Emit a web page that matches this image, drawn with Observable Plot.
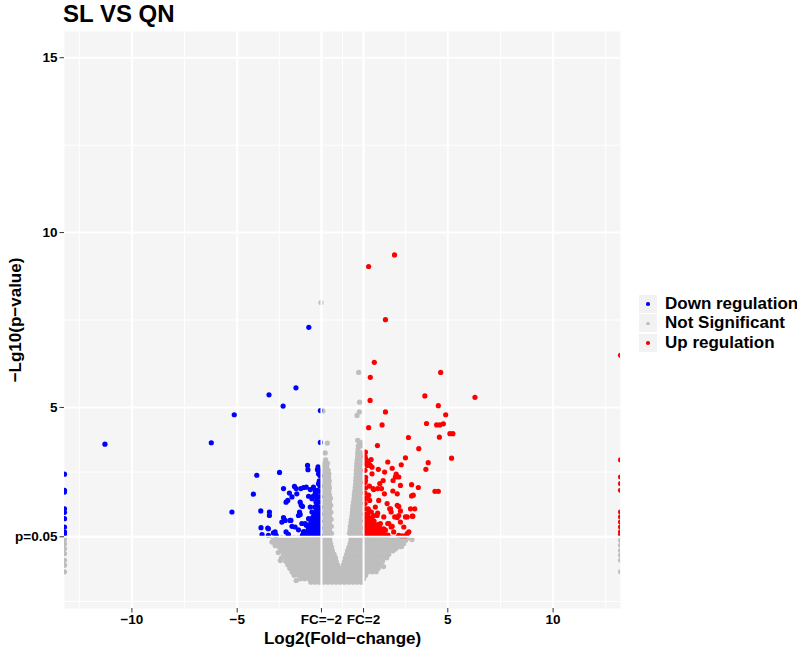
<!DOCTYPE html>
<html><head><meta charset="utf-8">
<script src="https://cdn.jsdelivr.net/npm/d3@7"></script>
<script src="https://cdn.jsdelivr.net/npm/@observablehq/plot@0.6"></script>
<style>
body{margin:0;background:#fff;font-family:"Liberation Sans",Arial,Helvetica,sans-serif;}
#wrap{position:relative;width:797px;height:652px;overflow:hidden;background:#fff}
#title{position:absolute;left:63px;top:1px;font-size:24px;line-height:25px;font-weight:bold;color:#000;white-space:nowrap}
#legend{position:absolute;left:639px;top:294px}
.row{display:flex;align-items:center;height:19.6px}
.key{width:18px;height:18px;background:#f2f2f2;position:relative;margin-right:8px;flex:none}
.key span{position:absolute;left:7.2px;top:7.2px;width:3.6px;height:3.6px;border-radius:50%}
.lab{font-size:17px;font-weight:bold;color:#000;white-space:nowrap;line-height:18px}
#chart{position:absolute;left:0;top:0}
g[aria-label="x-axis label"], g[aria-label="y-axis label"]{font-size:17px}
</style>
</head><body>
<div id="wrap">
  <div id="chart"></div>
  <div id="title"></div>
  <div id="legend"></div>
</div>
<script>
// ---------------- data ----------------
const chartTitle = "SL VS QN";
const xLabel = "Log2(Fold\u2212change)";
const yLabel = "\u2212Lg10(p\u2212value)";
const groupNames = ["Down regulation", "Not Significant", "Up regulation"];
const groupColors = ["#0000ff", "#bebebe", "#ff0000"];

const xTickValues = [-10, -5, -1, 1, 5, 10];
const xTickLabels = ["\u221210", "\u22125", "FC=\u22122", "FC=2", "5", "10"];
const yTickValues = [1.30103, 5, 10, 15];
const yTickLabels = ["p=0.05", "5", "10", "15"];
const xMinorTicks = [-12.5, -7.5, -3, 0, 3, 7.5, 12.5];
const yMinorTicks = [-0.55, 3.15, 7.5, 12.5];
const fcCutoffs = [-1, 1];
const pCutoff = [1.30103];

// Down-regulated genes [log2FC, -log10 p]; -Infinity = only in one group
const downPoints = [
 [-Infinity,3.09],[-Infinity,2.63],[-Infinity,2.58],[-Infinity,2.1],[-Infinity,2.0],[-Infinity,1.82],[-Infinity,1.58],[-Infinity,1.44],[-Infinity,1.38],
 [-11.28,3.95],[-6.23,3.99],[-5.14,4.79],[-3.49,5.36],[-2.21,5.56],[-2.82,5.04],[-1.6,7.29],[-1.05,4.91],[-1.05,4.0],
 [-5.25,2.01],[-4.07,3.06],[-4.23,2.52],[-2.99,3.14],[-3.88,2.04],[-3.47,2.01],[-3.47,1.91],[-2.8,2.68],[-2.28,2.74],[-2.2,2.68],
 [-1.98,2.68],[-1.72,2.72],[-1.66,3.34],[-1.64,3.22],[-1.38,2.72],[-1.3,2.63],[-1.14,2.82],[-1.14,3.1],[-2.52,2.55],[-2.4,2.44],
 [-2.6,2.34],[-2.68,2.29],[-2.17,2.53],[-2.01,2.29],[-1.96,2.2],[-1.61,2.46],[-1.45,2.39],[-1.4,2.44],[-1.3,2.53],[-1.21,2.39],
 [-1.21,2.25],[-2.04,2.01],[-2.09,1.91],[-1.53,2.15],[-1.45,2.01],[-3.87,1.56],[-3.52,1.53],[-3.2,1.44],[-3.15,1.34],[-2.8,1.85],
 [-2.72,1.77],[-2.88,1.72],[-2.49,1.77],[-2.4,1.6],[-2.68,1.44],[-2.57,1.37],[-2.25,1.58],[-2.09,1.5],[-1.93,1.68],[-1.72,1.63],
 [-3.52,1.34],[-3.82,1.36],[-3.28,1.41],[-3.55,1.55],[-1.9,2.17],[-1.85,2.71],[-1.53,2.65],[-1.42,2.44],[-1.33,1.98],[-1.25,2.29],
 [-1.19,2.63],[-1.61,1.82],[-1.77,1.68],[-1.85,1.44],[-2.45,1.77],[-2.01,1.94],[-1.19,3.22],[-1.16,3.3]
];
// dense down-regulated cluster next to FC=-2, by rows: [-log10 p, [log2FC...]]
const downDenseRows = [
 [1.35,[-1.07,-1.2,-1.33,-1.46,-1.6,-1.75,-1.9]],
 [1.45,[-1.1,-1.24,-1.38,-1.52,-1.66,-1.82]],
 [1.55,[-1.07,-1.2,-1.34,-1.48,-1.62]],
 [1.65,[-1.1,-1.24,-1.38,-1.55]],
 [1.75,[-1.07,-1.2,-1.34,-1.5]],
 [1.85,[-1.1,-1.25,-1.42]],
 [1.95,[-1.07,-1.2,-1.36]],
 [2.05,[-1.1,-1.25]],
 [2.15,[-1.07,-1.2,-1.32]],
 [2.3,[-1.1,-1.25]],
 [2.45,[-1.07,-1.18]],
 [2.6,[-1.1,-1.22]],
 [2.75,[-1.07]],
 [2.9,[-1.1]],
 [3.05,[-1.07]],
 [3.2,[-1.1]]
];

// Up-regulated genes
const upPoints = [
 [Infinity,6.49],[Infinity,3.5],[Infinity,3.01],[Infinity,2.82],[Infinity,2.63],[Infinity,2.01],[Infinity,1.87],[Infinity,1.72],[Infinity,1.58],[Infinity,1.44],[Infinity,1.36],
 [1.24,9.03],[2.47,9.36],[2.04,7.51],[1.51,6.29],[1.32,5.86],[4.66,6.0],[1.31,5.2],[6.29,5.29],[3.91,5.33],[4.55,5.05],[4.9,4.79],
 [2.04,4.87],[1.88,4.5],[1.24,4.42],[3.99,4.54],[4.47,4.5],[4.62,4.5],[4.79,4.53],[4.6,4.15],[5.1,4.25],[5.24,4.25],[3.13,4.14],
 [1.66,3.91],[3.62,3.82],[5.18,3.55],[2.99,3.56],[4.07,3.42],[3.96,3.23],[2.15,3.44],[2.79,3.36],[2.36,3.26],[1.7,3.23],[2.0,3.15],
 [2.55,3.09],[2.67,3.01],[3.28,2.79],[3.6,2.71],[4.39,2.6],[4.55,2.6],[1.93,2.91],[2.4,2.91],[2.75,2.77],[1.77,2.82],[1.85,2.68],
 [1.45,2.68],[2.6,2.53],[3.28,2.47],[2.12,2.25],[2.6,2.2],[1.72,2.34],[3.43,2.1],[2.28,2.1],[2.67,2.17],[3.34,1.89],[3.07,1.87],
 [2.48,1.87],[2.67,1.91],[1.56,2.15],[1.37,2.01],[1.64,1.91],[1.96,1.87],[2.15,1.68],[2.31,1.58],[2.91,1.58],[3.15,1.44],[3.07,1.39],
 [2.04,1.49],[1.8,1.68],[1.36,3.51],[1.17,3.34],[1.32,3.34],[1.4,3.29],[2.51,3.01],[1.4,3.1],[1.28,2.75],[1.48,2.65],[1.67,2.68],
 [2.39,2.61],[1.99,2.53],[3.36,2.49],[1.29,2.34],[1.67,1.98],[2.24,2.1],[2.31,2.01],[2.75,2.04],[3.23,2.1],[3.31,1.89],[2.99,1.87],
 [2.6,1.85],[1.48,1.91],[2.2,1.68],[2.36,1.6],[2.75,1.72],[1.96,1.53],[2.43,1.44],[2.67,1.34],[2.83,1.33],[2.99,1.33],[1.09,3.72],
 [1.1,3.53],[1.24,3.46],[1.09,2.91],[1.24,2.49],[1.1,2.41],[1.24,2.06],[1.11,1.79]
];
const upDenseRows = [
 [1.35,[1.07,1.2,1.33,1.46,1.6,1.74,1.88,2.02,2.16]],
 [1.45,[1.1,1.24,1.38,1.52,1.66,1.8,1.95]],
 [1.55,[1.07,1.2,1.33,1.47,1.62,1.78]],
 [1.65,[1.1,1.24,1.38,1.52,1.68]],
 [1.75,[1.07,1.2,1.35,1.5]],
 [1.85,[1.1,1.25,1.4]],
 [1.95,[1.07,1.2]],
 [2.1,[1.1,1.22]],
 [2.25,[1.07]],
 [2.4,[1.1,1.2]],
 [2.55,[1.07]],
 [2.7,[1.1]],
 [2.85,[1.07]],
 [3.0,[1.1]],
 [3.2,[1.07]],
 [3.4,[1.1]],
 [3.6,[1.07]]
];

// Not significant genes: scattered ones
const nsPoints = [
 [-Infinity,1.22],[-Infinity,1.1],[-Infinity,0.96],[-Infinity,0.82],[-Infinity,0.63],[-Infinity,0.49],[-Infinity,0.3],
 [Infinity,1.2],[Infinity,1.06],[Infinity,0.91],[Infinity,0.77],[Infinity,0.63],[Infinity,0.3],
 [-1.02,8.0],[-0.93,4.9],[0.77,6.0],[0.81,5.15],[0.69,4.77],[0.8,4.87],[0.72,4.06],[0.85,4.0],[-0.72,3.98],[-0.82,3.7],
 [-3.35,1.15],[-3.2,1.05],[-3.05,0.85],[2.5,0.95],[3.3,1.22],[2.8,1.02],[1.95,0.45],[-2.95,0.62],[-2.2,0.05]
];
// Not significant genes: the dense mass, by rows [-log10 p, [log2FC...]]
const nsDenseRows = [
 [0.0,[-1.5,-1.3,-1.1,-0.9,-0.7,-0.5,-0.3,-0.1,0.1,0.3,0.5,0.7,0.9]],
 [0.1,[-2.0,-1.8,-1.6,-1.4,-1.2,-1.0,-0.8,-0.6,-0.4,-0.2,0.0,0.2,0.4,0.6,0.8,1.0]],
 [0.2,[-2.3,-2.1,-1.9,-1.7,-1.5,-1.3,-1.1,-0.9,-0.7,-0.5,-0.3,-0.1,0.1,0.3,0.5,0.7,0.9,1.1]],
 [0.3,[-2.4,-2.2,-2.0,-1.8,-1.6,-1.4,-1.2,-1.0,-0.8,-0.6,-0.4,-0.2,0.0,0.2,0.4,0.6,0.8,1.0,1.2,1.4,1.6]],
 [0.4,[-2.5,-2.3,-2.1,-1.9,-1.7,-1.5,-1.3,-1.1,-0.9,-0.7,-0.5,-0.3,-0.1,0.1,0.3,0.5,0.7,0.9,1.1,1.3,1.5,1.7]],
 [0.5,[-2.6,-2.4,-2.2,-2.0,-1.8,-1.6,-1.4,-1.2,-1.0,-0.8,-0.6,-0.4,-0.24,0.04,0.2,0.4,0.6,0.8,1.0,1.2,1.4,1.6,1.8]],
 [0.6,[-2.7,-2.5,-2.3,-2.1,-1.9,-1.7,-1.5,-1.3,-1.1,-0.9,-0.7,-0.5,-0.3,0.1,0.3,0.5,0.7,0.9,1.1,1.3,1.5,1.7,1.9]],
 [0.7,[-2.9,-2.7,-2.5,-2.3,-2.1,-1.9,-1.7,-1.5,-1.3,-1.1,-0.9,-0.7,-0.5,-0.33,0.13,0.3,0.5,0.7,0.9,1.1,1.3,1.5,1.7,1.9,2.1]],
 [0.8,[-2.8,-2.6,-2.4,-2.2,-2.0,-1.8,-1.6,-1.4,-1.2,-1.0,-0.8,-0.6,-0.4,0.2,0.4,0.6,0.8,1.0,1.2,1.4,1.6,1.8,2.0,2.2]],
 [0.9,[-2.9,-2.7,-2.5,-2.3,-2.1,-1.9,-1.7,-1.5,-1.3,-1.1,-0.9,-0.7,-0.48,0.24,0.4,0.6,0.8,1.0,1.2,1.4,1.6,1.8,2.0,2.2,2.4]],
 [1.0,[-3.0,-2.8,-2.6,-2.4,-2.2,-2.0,-1.8,-1.6,-1.4,-1.2,-1.0,-0.8,-0.66,-0.52,0.3,0.44,0.6,0.8,1.0,1.2,1.4,1.6,1.8,2.0,2.2,2.4,2.6]],
 [1.1,[-3.1,-2.9,-2.7,-2.5,-2.3,-2.1,-1.9,-1.7,-1.5,-1.3,-1.1,-0.9,-0.72,-0.56,0.36,0.52,0.7,0.9,1.1,1.3,1.5,1.7,1.9,2.1,2.3,2.5,2.7,2.9]],
 [1.2,[-3.2,-3.0,-2.8,-2.6,-2.4,-2.2,-2.0,-1.8,-1.6,-1.4,-1.2,-1.0,-0.8,-0.6,0.4,0.6,0.8,1.0,1.2,1.4,1.6,1.8,2.0,2.2,2.4,2.6,2.8,3.0]],
 [1.27,[-3.3,-3.1,-2.9,-2.7,-2.5,-2.3,-2.1,-1.9,-1.7,-1.5,-1.3,-1.1,-0.9,-0.76,-0.62,0.41,0.55,0.7,0.9,1.1,1.3,1.5,1.7,1.9,2.1,2.3,2.5,2.7,2.9,3.1]],
 [1.4,[-0.95,-0.8,-0.65,-0.52,0.33,0.47,0.62,0.77,0.92]],
 [1.5,[-0.92,-0.77,-0.62,0.36,0.5,0.65,0.8,0.95]],
 [1.6,[-0.95,-0.8,-0.65,-0.53,0.37,0.52,0.67,0.82,0.95]],
 [1.7,[-0.92,-0.77,-0.62,0.4,0.55,0.7,0.85]],
 [1.8,[-0.95,-0.8,-0.65,-0.54,0.42,0.57,0.72,0.87,0.97]],
 [1.9,[-0.92,-0.77,-0.62,0.45,0.6,0.75,0.9]],
 [2.0,[-0.95,-0.8,-0.65,-0.55,0.47,0.62,0.77,0.92]],
 [2.1,[-0.92,-0.77,-0.62,0.48,0.63,0.78,0.93]],
 [2.2,[-0.95,-0.8,-0.65,-0.56,0.5,0.65,0.8,0.95]],
 [2.3,[-0.92,-0.77,-0.62,0.52,0.67,0.82,0.95]],
 [2.4,[-0.95,-0.8,-0.65,-0.57,0.55,0.7,0.85,0.97]],
 [2.5,[-0.92,-0.77,-0.62,0.56,0.7,0.85]],
 [2.6,[-0.95,-0.8,-0.65,0.58,0.72,0.87,0.97]],
 [2.7,[-0.92,-0.77,-0.62,0.6,0.75,0.9]],
 [2.8,[-0.95,-0.8,-0.65,0.62,0.76,0.9]],
 [2.9,[-0.92,-0.77,-0.63,0.63,0.77,0.92]],
 [3.0,[-0.95,-0.8,-0.66,0.64,0.78,0.92]],
 [3.1,[-0.92,-0.77,-0.65,0.65,0.8,0.93]],
 [3.2,[-0.95,-0.8,-0.68,0.66,0.8,0.93]],
 [3.3,[-0.9,-0.75,0.67,0.82]],
 [3.4,[-0.85,-0.72,0.68,0.83,0.95]],
 [3.5,[-0.8,0.7,0.85]],
 [3.6,[0.72,0.86]],
 [3.7,[0.72,0.88]],
 [3.8,[0.74]],
 [3.9,[0.75,0.88]],
 [4.0,[0.8]]
];

// ---------------- build table ----------------
const xDomain = [-13.2, 13.2];
const yDomain = [-0.75, 15.75];
function fromRows(rows){ const out=[]; for (const [y, xs] of rows) for (const x of xs) out.push([x, y]); return out; }
const table = [];
for (const [x,y] of [...nsPoints, ...fromRows(nsDenseRows)]) table.push({x, y, group: groupNames[1]});
for (const [x,y] of [...downPoints, ...fromRows(downDenseRows)]) table.push({x, y, group: groupNames[0]});
for (const [x,y] of [...upPoints, ...fromRows(upDenseRows)]) table.push({x, y, group: groupNames[2]});
const clampX = d => Math.max(xDomain[0], Math.min(xDomain[1], d.x));

const xFmt = d => xTickLabels[xTickValues.indexOf(d)];
const yFmt = d => yTickLabels[yTickValues.indexOf(d)];

const plot = Plot.plot({
  width: 797, height: 652,
  marginLeft: 64, marginRight: 177, marginTop: 31, marginBottom: 44,
  style: {fontFamily: '"Liberation Sans", Arial, Helvetica, sans-serif', fontSize: "13.5px", fontWeight: "bold", color: "#000", background: "transparent"},
  x: {domain: xDomain},
  y: {domain: yDomain},
  color: {domain: groupNames, range: groupColors},
  marks: [
    Plot.frame({fill: "#f5f5f5", stroke: "none"}),
    Plot.gridX(xMinorTicks, {stroke: "#ffffff", strokeOpacity: 1, strokeWidth: 1}),
    Plot.gridY(yMinorTicks, {stroke: "#ffffff", strokeOpacity: 1, strokeWidth: 1}),
    Plot.gridX(xTickValues, {stroke: "#ffffff", strokeOpacity: 1, strokeWidth: 2}),
    Plot.gridY(yTickValues, {stroke: "#ffffff", strokeOpacity: 1, strokeWidth: 2}),
    Plot.dot(table, {x: clampX, y: "y", fill: "group", r: 2.6, stroke: "none", clip: true}),
    Plot.ruleX(fcCutoffs, {stroke: "#ffffff", strokeWidth: 2}),
    Plot.ruleY(pCutoff, {stroke: "#ffffff", strokeWidth: 2}),
    Plot.axisX({ticks: xTickValues, tickFormat: xFmt, tickSize: 4.5, tickPadding: 1, stroke: "#333333",
      label: xLabel, labelAnchor: "center", labelOffset: 35, labelArrow: "none"}),
    Plot.axisY({ticks: yTickValues, tickFormat: yFmt, tickSize: 4.5, tickPadding: 2.5, stroke: "#333333",
      label: yLabel, labelAnchor: "center", labelOffset: 56, labelArrow: "none"})
  ]
});
document.getElementById("chart").appendChild(plot);

document.getElementById("title").textContent = chartTitle;
const legend = document.getElementById("legend");
groupNames.forEach((name, i) => {
  const row = document.createElement("div"); row.className = "row";
  const key = document.createElement("div"); key.className = "key";
  const dot = document.createElement("span"); dot.style.background = groupColors[i];
  key.appendChild(dot);
  const lab = document.createElement("div"); lab.className = "lab"; lab.textContent = name;
  row.appendChild(key); row.appendChild(lab);
  legend.appendChild(row);
});
</script>
</body></html>
